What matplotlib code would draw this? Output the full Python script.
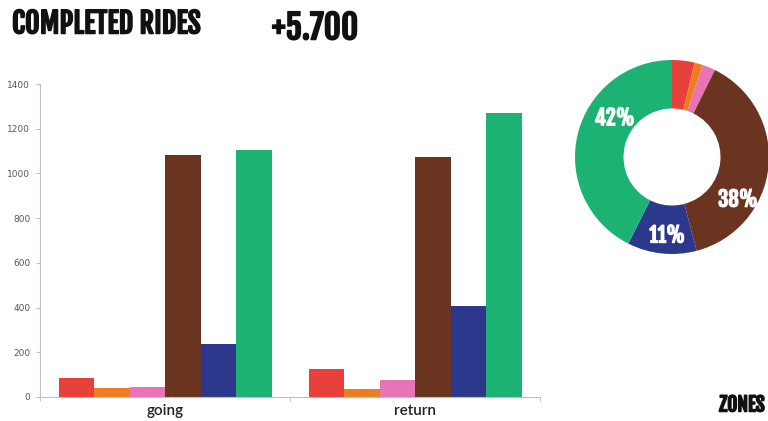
import matplotlib
matplotlib.use("Agg")
import matplotlib.pyplot as plt
import matplotlib.patheffects as pe
import numpy as np

# completed rides per zone, going / return
categories = ["going", "return"]
zones = ["zone 1", "zone 2", "zone 3", "zone 4", "zone 5", "zone 6"]
going = [85, 40, 45, 1082, 237, 1105]
returning = [125, 36, 76, 1073, 407, 1270]
colors = ["#E8403A", "#EE7D22", "#E873B5", "#6B3420", "#2B388C", "#1BB274"]
pie_labels = ["42%", "38%", "11%"]
yticks = [0, 200, 400, 600, 800, 1000, 1200, 1400]

title_font = ["Fjalla One", "Oswald", "DejaVu Sans"]
dark_bold = [pe.withStroke(linewidth=1.1, foreground="#111111")]
white_bold = [pe.withStroke(linewidth=0.9, foreground="white")]

fig = plt.figure(figsize=(7.68, 4.21), dpi=100)

# bar chart
ax = fig.add_axes([40 / 768, 24 / 421, 500 / 768, 313 / 421])
n = len(zones)
width = 0.142
x = np.arange(len(categories))
values = np.array([going, returning])
for i in range(n):
    ax.bar(x + (i - (n - 1) / 2) * width, values[:, i], width=width,
           color=colors[i], label=zones[i])

ax.set_xlim(-0.5, 1.5)
ax.set_ylim(0, 1400)
ax.set_yticks(yticks)
ax.set_yticklabels([str(t) for t in yticks], fontsize=6.5, color="#595959")
ax.set_xticks(x)
ax.set_xticklabels(categories, fontsize=11, color="#222222", family="Lato",
                   fontweight="semibold")
ax.set_xticks([-0.5, 0.5, 1.5], minor=True)
ax.tick_params(axis="x", which="major", length=0, pad=5)
ax.tick_params(axis="x", which="minor", length=3, color="#BFBFBF", direction="out")
ax.tick_params(axis="y", length=3, color="#BFBFBF", pad=4)
for side in ["top", "right"]:
    ax.spines[side].set_visible(False)
ax.spines["left"].set_color("#BFBFBF")
ax.spines["bottom"].set_color("#BFBFBF")

# donut of the totals
totals = values.sum(axis=0)
pax = fig.add_axes([575 / 768, (421 - 254) / 421, 194 / 768, 194 / 421])
pax.pie(totals, colors=colors, startangle=90, counterclock=False,
        wedgeprops=dict(width=0.5, edgecolor="none"))
pax.set_xlim(-1, 1)
pax.set_ylim(-1, 1)
pax.set_aspect("equal")
label_pos = [(-0.59, 0.40), (0.68, -0.44), (-0.05, -0.81)]
for lab, (lx, ly) in zip(pie_labels, label_pos):
    pax.text(lx, ly, lab, ha="center", va="center", color="white",
             fontsize=15, family=title_font, path_effects=white_bold)

fig.text(12 / 768, 1 - 24 / 421, "COMPLETED RIDES", fontsize=20.5,
         family=title_font, ha="left", va="center", color="#111111",
         path_effects=dark_bold)
fig.text(272 / 768, 1 - 28 / 421, "+5.700", fontsize=24,
         family=title_font, ha="left", va="center", color="#111111",
         path_effects=dark_bold)
fig.text(765 / 768, 1 - 405 / 421, "ZONES", fontsize=14,
         family=title_font, ha="right", va="center", color="#111111",
         path_effects=dark_bold)

fig.savefig("out.png", dpi=100)
